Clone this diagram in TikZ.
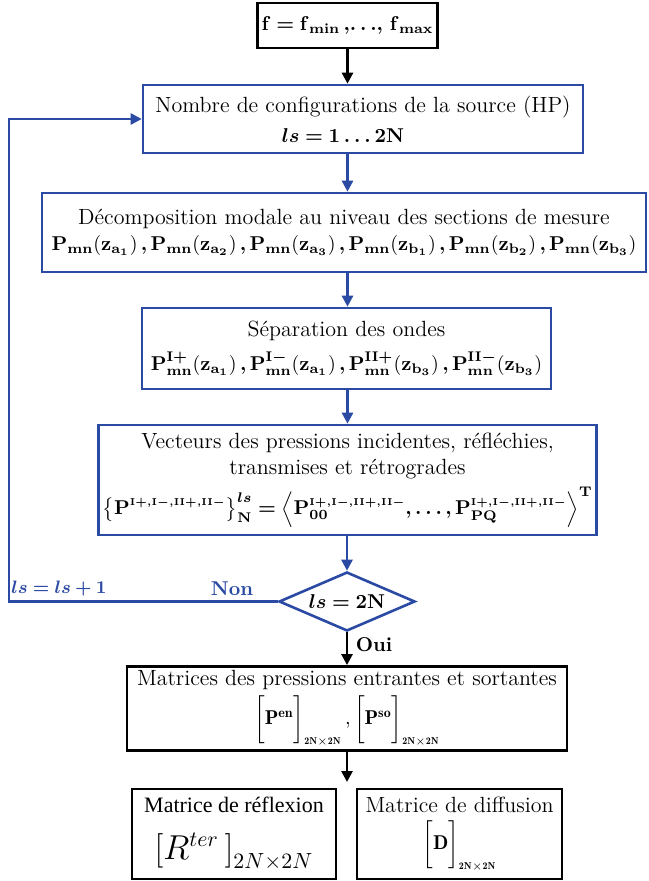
\documentclass[tikz,border=0pt]{standalone}
\usepackage{amsmath}
\usepackage{bm}
\usepackage{fontspec}
\usetikzlibrary{arrows.meta,shapes.geometric,positioning}
\definecolor{flowblue}{rgb}{0.17, 0.29, 0.64}
\newfontfamily\timesfont{Liberation Serif}

\newcommand{\bP}{\mathbf{P}}
\newcommand{\bz}[1]{\mathbf{z}_{\mathbf{#1}}}
\newcommand{\lsym}{\bm{ls}}
\newcommand{\hd}[1]{{\fontsize{11}{13}\selectfont #1}}
\newcommand{\wsup}{{\scriptscriptstyle\mathbf{I+,I-,II+,II-}}}
\newcommand{\mdim}{{\scriptscriptstyle\mathbf{2N\times2N}}}

\tikzset{
  bluebox/.style={draw=flowblue, line width=1.3pt, align=center, inner sep=2pt},
  blackbox/.style={draw=black, line width=1.3pt, align=center, inner sep=2pt},
  bluearrow/.style={draw=flowblue, line width=1.3pt, -{Triangle[length=5.5pt,width=5.5pt]}},
  blackarrow/.style={draw=black, line width=1.3pt, -{Triangle[length=5.5pt,width=5.5pt]}},
}

\begin{document}
\begin{tikzpicture}[x=0.5pt, y=-0.5pt]
    % Fix the page to the reference size.
    \useasboundingbox (0,0) rectangle (648,881);
    % Frequency loop
    \node[blackbox, minimum width=76.5pt, minimum height=22.5pt] (freq) at (347.5,25.5)
        {$\bm{\mathbf{f}=\mathbf{f}_{\mathbf{min}}\,,\!\ldots\!,\,\mathbf{f}_{\mathbf{max}}}$};
    % Source configurations
    \node[bluebox, minimum width=220pt, minimum height=34pt] (nbconf) at (363,119)
        {\hd{Nombre de configurations de la source (HP)}\\[3pt]
         $\bm{\lsym=\mathbf{1\ldots2N}}$\hspace*{20pt}};
    % Modal decomposition
    \node[bluebox, minimum width=302pt, minimum height=39.5pt] (decomp) at (344,232.5)
        {\hd{D\'ecomposition modale au niveau des sections de mesure}\\[1pt]
         $\bm{\bP_{\mathbf{mn}}\!\left(\bz{a_1}\right),\bP_{\mathbf{mn}}\!\left(\bz{a_2}\right),
         \bP_{\mathbf{mn}}\!\left(\bz{a_3}\right),\bP_{\mathbf{mn}}\!\left(\bz{b_1}\right),
         \bP_{\mathbf{mn}}\!\left(\bz{b_2}\right),\bP_{\mathbf{mn}}\!\left(\bz{b_3}\right)}$};
    % Wave separation
    \node[bluebox, minimum width=204.5pt, minimum height=40.5pt] (separ) at (346.5,348.5)
        {\hd{S\'eparation des ondes}\\[5pt]
         $\bm{\bP^{\mathbf{I+}}_{\mathbf{mn}}\!\left(\bz{a_1}\right),\bP^{\mathbf{I-}}_{\mathbf{mn}}\!\left(\bz{a_1}\right),
         \bP^{\mathbf{II+}}_{\mathbf{mn}}\!\left(\bz{b_3}\right),\bP^{\mathbf{II-}}_{\mathbf{mn}}\!\left(\bz{b_3}\right)}$};
    % Pressure vectors
    \node[bluebox, minimum width=235.5pt, minimum height=55pt] (vect) at (347.5,480)
        {\hd{Vecteurs des pressions incidentes, r\'efl\'echies,}\\[1pt]
         \hd{transmises et r\'etrogrades}\\[3pt]
         $\bm{\left\{\bP^{\wsup}\right\}^{\lsym}_{\mathbf{N}}
         =\left\langle\bP^{\wsup}_{\mathbf{00}},\ldots,
         \bP^{\wsup}_{\mathbf{PQ}}\right\rangle^{\mathbf{T}}}$};
    % Test
    \node[diamond, aspect=2.3, draw=flowblue, line width=1.3pt, inner sep=0pt,
        minimum width=68pt, minimum height=29.5pt] (test) at (347,601.5)
        {$\bm{\lsym=\mathbf{2N}}$};
    % Incoming / outgoing matrices
    \node[blackbox, minimum width=220pt, minimum height=41.5pt] (matr) at (347,708.5)
        {\hd{Matrices des pressions entrantes et sortantes}\\[2pt]
         $\left[\bP^{\mathbf{en}}\vphantom{\bigg|}\right]_{\mdim},
         \left[\bP^{\mathbf{so}}\vphantom{\bigg|}\right]_{\mdim}$};
    % Results
    \node[blackbox, minimum width=102pt, minimum height=45pt] (refl) at (234,834)
        {{\timesfont\fontsize{11}{13}\selectfont Matrice de r\'eflexion}\\[9pt]
         {\fontsize{16}{18}\selectfont$\left[R^{ter}\,\right]_{2N\times2N}$}};
    \node[blackbox, minimum width=102.5pt, minimum height=45pt] (diff) at (459.5,834)
        {\hd{Matrice de diffusion}\\[3pt]
         $\left[\mathbf{D}\vphantom{\bigg|}\right]_{\mdim}$};
    % Connectors
    \coordinate (loop) at (9,601.5);
    \coordinate (split) at (347,782);
    \draw[blackarrow] (freq) -- (nbconf.north -| freq);
    \draw[bluearrow] (nbconf.south -| freq) -- (decomp.north -| freq);
    \draw[bluearrow] (decomp.south -| freq) -- (separ.north -| freq);
    \draw[bluearrow] (separ.south -| freq) -- (vect.north -| freq);
    \draw[bluearrow] (vect.south -| test) -- (test);
    \draw[bluearrow] (test) -- (loop) |- (nbconf);
    \draw[blackarrow] (test) -- (matr.north -| test);
    \draw[blackarrow] (matr.south -| split) -- (split);
    % Labels on the loop
    \node[text=flowblue, font=\small] (incr) at (59,589) {$\bm{\lsym=\lsym+\mathbf{1}}$};
    \node[text=flowblue] (non) at (232,589) {\textbf{Non}};
    \node (oui) at (374,645) {\textbf{Oui}};
\end{tikzpicture}
\end{document}
